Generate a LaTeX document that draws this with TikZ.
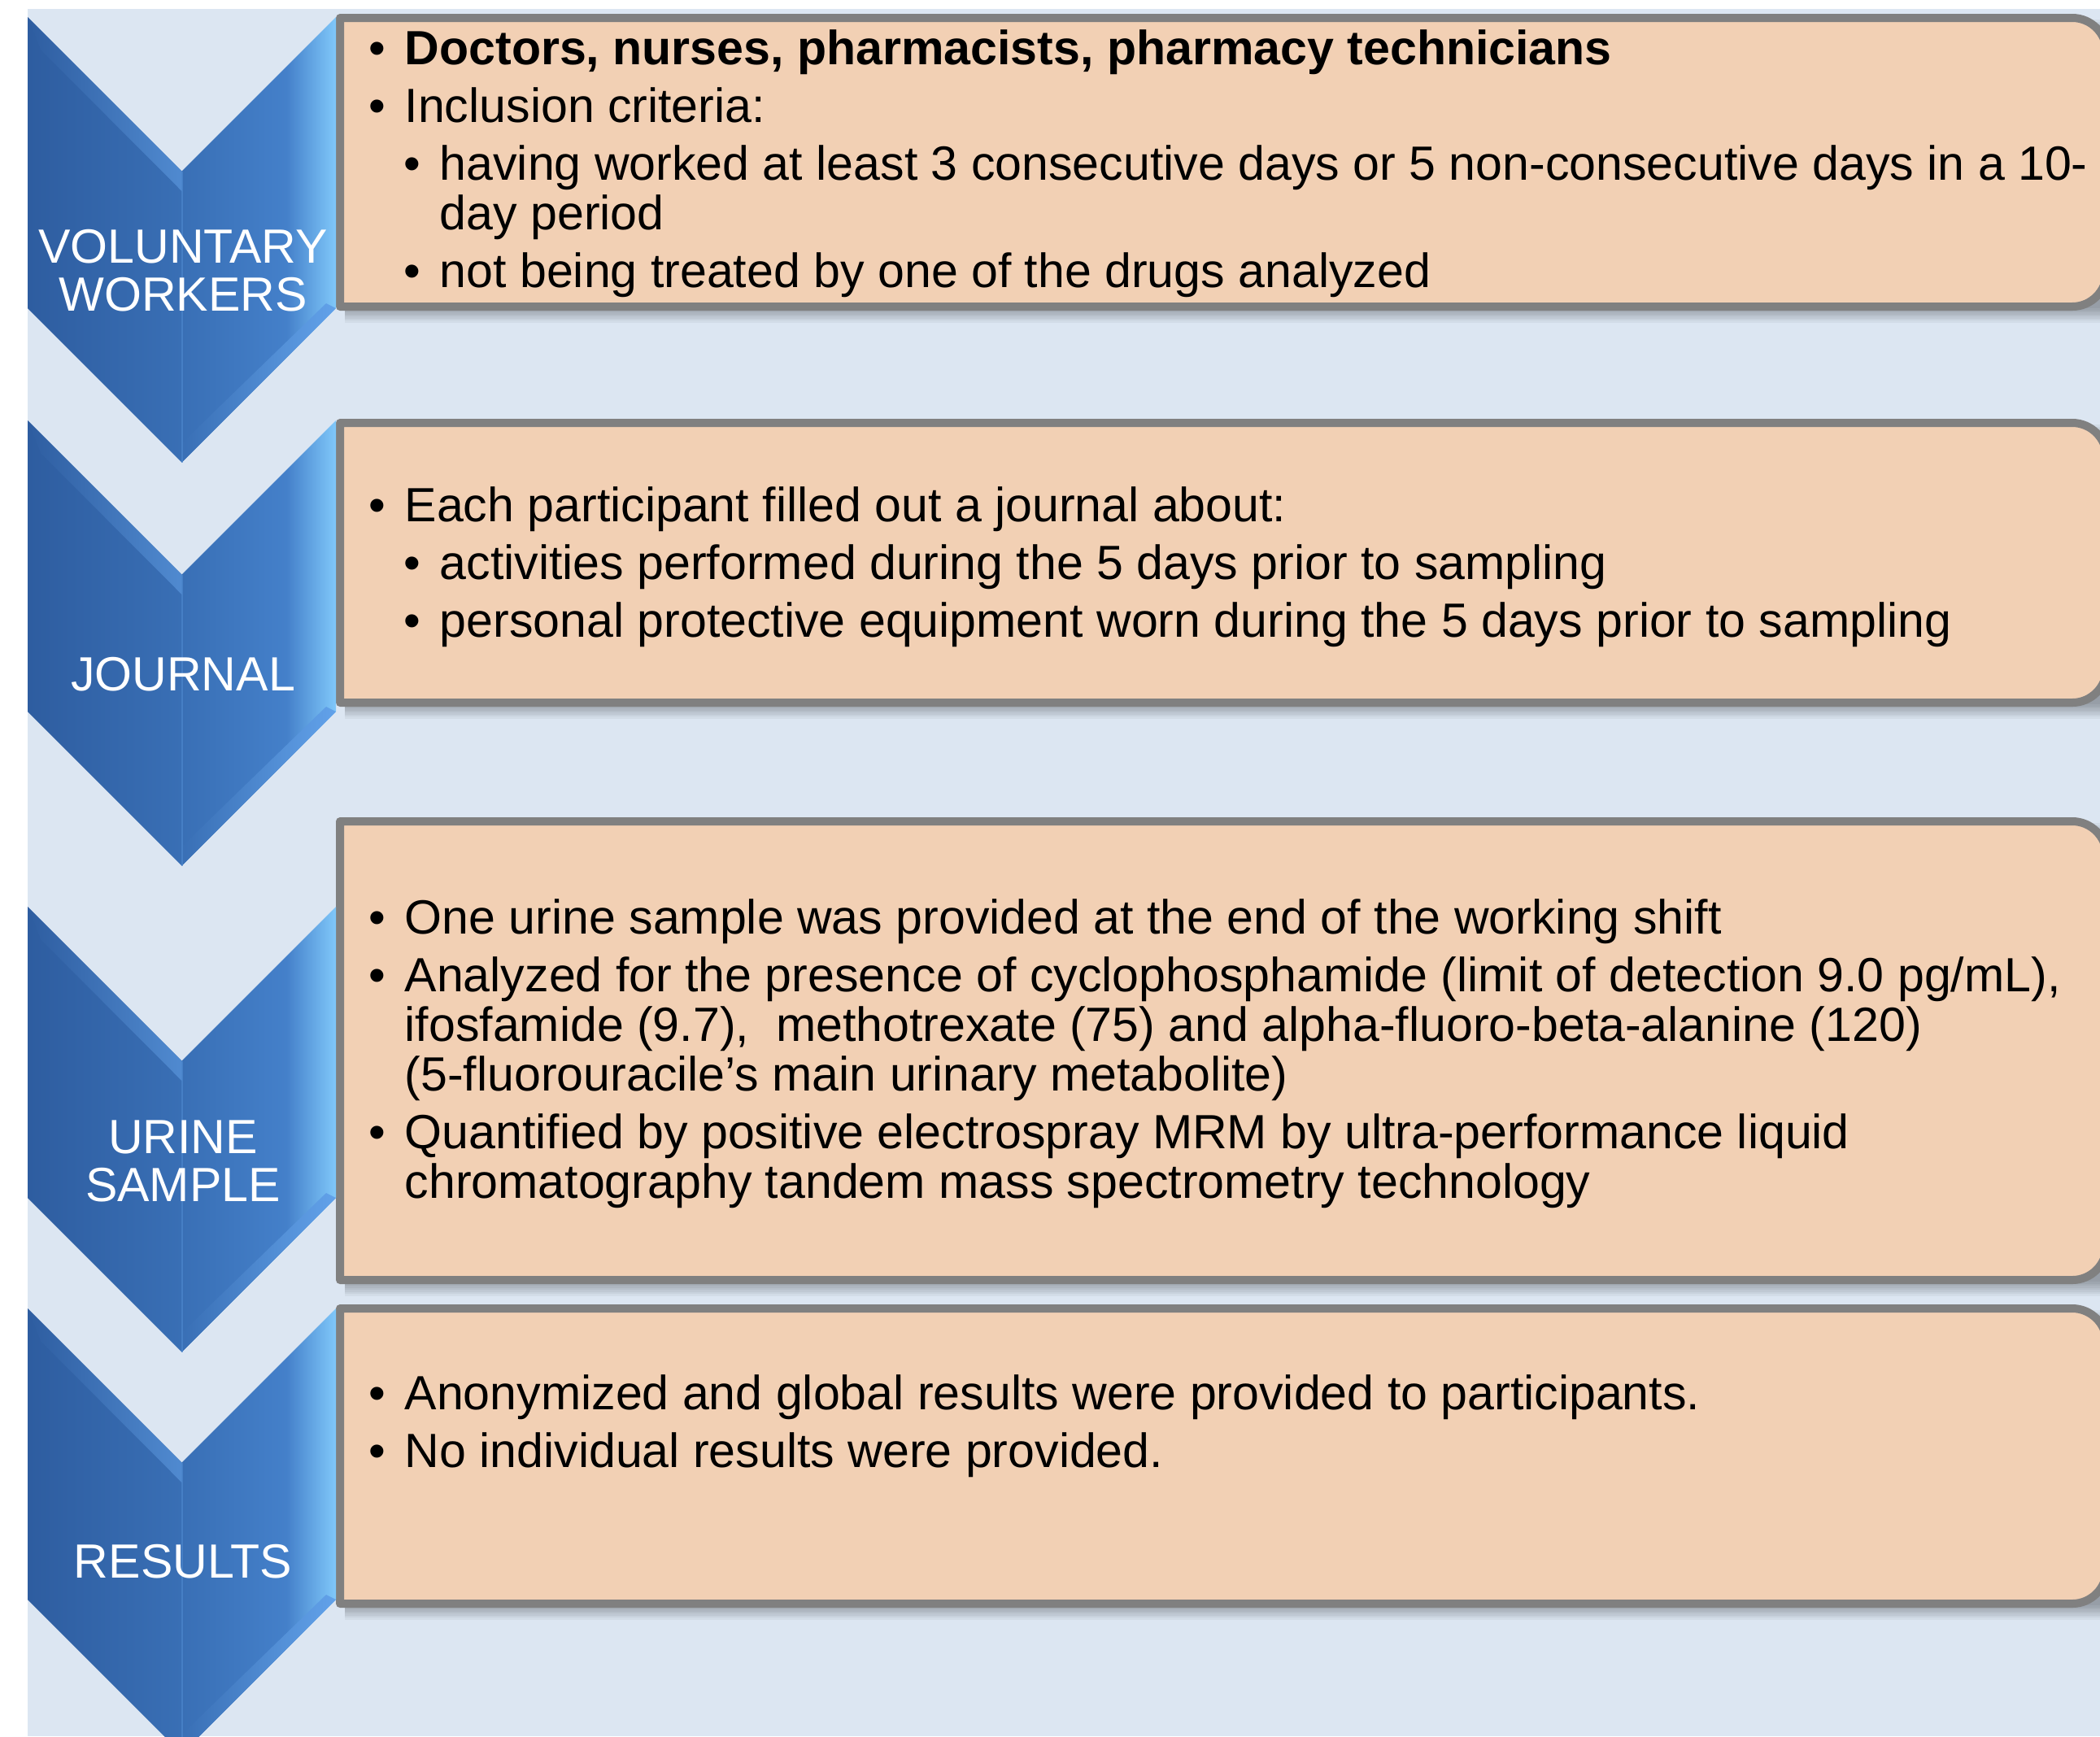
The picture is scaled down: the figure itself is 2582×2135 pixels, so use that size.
\documentclass[tikz,border=0pt]{standalone}
\usepackage{fontspec}
\setmainfont{Liberation Sans}
\definecolor{backblue}{HTML}{DCE6F2}
\definecolor{peach}{HTML}{F2D0B4}
\definecolor{rimgray}{HTML}{808080}
\definecolor{chvA}{RGB}{46,93,160}
\definecolor{chvB}{RGB}{80,138,208}
\definecolor{chvC}{RGB}{57,111,181}
\definecolor{chvD}{RGB}{68,128,202}
\definecolor{chvE}{RGB}{128,200,250}
\definecolor{chvF}{RGB}{98,162,234}
\pgfdeclarehorizontalshading{chevbody}{100bp}{color(0bp)=(chvA); color(25bp)=(chvA); color(50bp)=(chvC); color(67bp)=(chvD); color(75bp)=(chvE); color(100bp)=(chvE)}
\newcommand\lvlone[1]{\par\hangindent=0.44cm\noindent\makebox[0.44cm][l]{\textbullet}#1}
\newcommand\lvltwo[1]{\par\hangindent=0.87cm\noindent\hspace*{0.43cm}\makebox[0.44cm][l]{\textbullet}#1}

\begin{document}
\begin{tikzpicture}[x=0.01cm,y=-0.01cm,
  boxline/.style={draw=rimgray,line width=0.1cm,fill=peach,line join=round},
  boxtext/.style={anchor=base west,inner sep=0pt,font=\fontsize{16.8pt}{17.4pt}\selectfont},
  chevlabel/.style={text=white,align=center,inner sep=0pt,font=\fontsize{16.8pt}{16.8pt}\selectfont}]
\clip (0,0) rectangle (2582,2135);
\fill[white] (0,0) rectangle (2582,2135);
\fill[backblue] (34,11) rectangle (2582,2135);
% boxes with a soft shadow under them
\foreach \t/\b in {22/377,520/864,1010/1574,1609/1972}{
  \foreach \s in {2,4.5,...,20}
    \fill[black,opacity=.045] (424,\t+\s) rectangle (2600,\b+\s);
  \draw[boxline] (418,\t) -- (2548,\t) .. controls (2571,\t) and (2590,\t+19) .. (2590,\t+42)
    -- (2590,\b-42) .. controls (2590,\b-19) and (2571,\b) .. (2548,\b) -- (418,\b) -- cycle;
}
% chevrons: body, bevel facets and the middle ridge
\foreach \t in {21,517,1115,1609}{
  \shade[shading=chevbody] (34,\t) -- (223.5,\t+189.5) -- (413,\t) -- (413,\t+358)
    -- (223.5,\t+547.5) -- (34,\t+358) -- cycle;
  \shade[left color=chvA,right color=chvB] (34,\t) -- (223.5,\t+189.5) -- (223.5,\t+214) -- (50,\t+40) -- cycle;
  \shade[left color=chvC,right color=chvF] (223.5,\t+547.5) -- (413,\t+358) -- (401,\t+352) -- (223.5,\t+524) -- cycle;
  \draw[chvB,line width=0.02cm,opacity=.6] (223.5,\t+189.5) -- (223.5,\t+547.5);
}
\node[chevlabel] (lab1) at (225,333) {VOLUNTARY\\WORKERS};
\node[chevlabel] (lab2) at (225,829) {JOURNAL};
\node[chevlabel] (lab3) at (225,1428) {URINE\\SAMPLE};
\node[chevlabel] (lab4) at (225,1920) {RESULTS};
\node[boxtext] (txt1) at (453,79) {\parbox[t]{25cm}{\setlength\parskip{0.1cm}%
  \lvlone{\textbf{Doctors, nurses, pharmacists, pharmacy technicians}}
  \lvlone{Inclusion criteria:}
  \lvltwo{having worked at least 3 consecutive days or 5 non-consecutive days in a 10-\\day period}
  \lvltwo{not being treated by one of the drugs analyzed}}};
\node[boxtext] (txt2) at (453,641) {\parbox[t]{25cm}{\setlength\parskip{0.1cm}%
  \lvlone{Each participant filled out a journal about:}
  \lvltwo{activities performed during the 5 days prior to sampling}
  \lvltwo{personal protective equipment worn during the 5 days prior to sampling}}};
\node[boxtext] (txt3) at (453,1148) {\parbox[t]{25cm}{\setlength\parskip{0.1cm}%
  \lvlone{One urine sample was provided at the end of the working shift}
  \lvlone{Analyzed for the presence of cyclophosphamide (limit of detection 9.0 pg/mL),\\ifosfamide (9.7),~ methotrexate (75) and alpha-fluoro-beta-alanine (120)\\(5-fluorouracile’s main urinary metabolite)}
  \lvlone{Quantified by positive electrospray MRM by ultra-performance liquid\\chromatography tandem mass spectrometry technology}}};
\node[boxtext] (txt4) at (453,1733) {\parbox[t]{25cm}{\setlength\parskip{0.1cm}%
  \lvlone{Anonymized and global results were provided to participants.}
  \lvlone{No individual results were provided.}}};
\end{tikzpicture}
\end{document}
